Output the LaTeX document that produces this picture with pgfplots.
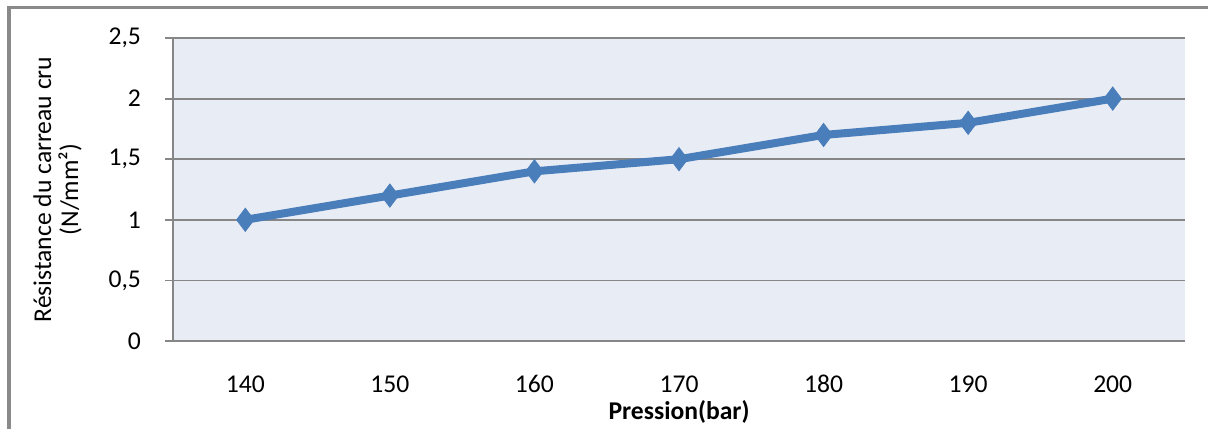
\documentclass[border=0pt]{standalone}
\usepackage{pgfplots}
\pgfplotsset{compat=1.18}
\usepackage{fontspec}
\setmainfont{Carlito}
\definecolor{plotbg}{HTML}{E8ECF5}
\definecolor{gridgray}{HTML}{868686}
\definecolor{framegray}{HTML}{8A8A8A}
\definecolor{lineblue}{HTML}{4A7EBB}
\begin{document}
\begin{tikzpicture}
% chart frame (left and top edges)
\begin{scope}
\clip (0,0) rectangle (604pt,214pt);
\draw[framegray, line width=1.75pt] (4.5pt,-10pt) |- (615pt,210.25pt);
\end{scope}
\begin{axis}[
  at={(86.5pt,43.5pt)}, anchor=south west,
  scale only axis, width=506pt, height=151.5pt,
  xmin=135, xmax=205, ymin=0, ymax=2.5,
  xtick={140,150,...,200}, ytick={0,0.5,...,2.5},
  axis background/.style={fill=plotbg},
  axis y line*=left, axis x line*=bottom,
  axis line style={-, draw=gridgray, line width=0.9pt},
  ymajorgrids, grid style={draw=gridgray, line width=0.9pt},
  major tick length=4pt, tick align=outside,
  xtick style={draw=none}, ytick style={draw=gridgray, line width=0.9pt},
  /pgf/number format/assume math mode=true,
  /pgf/number format/use comma,
  /pgf/number format/fixed,
  ticklabel style={font=\fontsize{12.8}{15}\selectfont},
  xticklabel style={anchor=center, yshift=-17.5pt},
  yticklabel style={anchor=east, xshift=-8.5pt},
  ylabel={Résistance du carreau cru\\(N/mm²)},
  ylabel style={at={(axis description cs:-0.114,0.5)}, anchor=center, align=center,
    font=\fontsize{12.8}{13.5}\selectfont},
  xlabel={\bfseries Pression(bar)},
  xlabel style={at={(axis description cs:0.5,-0.233)}, anchor=center,
    font=\fontsize{12.8}{15}\selectfont},
]
\addplot[lineblue, line width=4pt, mark=diamond*, mark size=5.8pt,
  mark options={solid, line width=0.4pt, fill=lineblue, draw=lineblue}]
  coordinates {(140,1) (150,1.2) (160,1.4) (170,1.5) (180,1.7) (190,1.8) (200,2)};
\end{axis}
\pgfresetboundingbox
\useasboundingbox (0,0) rectangle (604pt,214pt);
\end{tikzpicture}
\end{document}
